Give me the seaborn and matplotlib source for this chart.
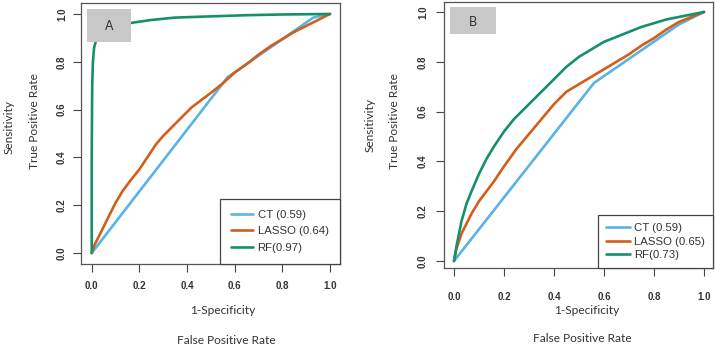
import numpy as np
import pandas as pd
import matplotlib
matplotlib.use("Agg")
import matplotlib.pyplot as plt
from matplotlib.patches import Rectangle
import seaborn as sns

# ---------------- data ----------------
models = ["CT", "LASSO", "RF"]
labels_A = ["CT (0.59)", "LASSO (0.64)", "RF(0.97)"]
labels_B = ["CT (0.59)", "LASSO (0.65)", "RF(0.73)"]
colors = ["#58B3E6", "#D25E1C", "#15906C"]

# Panel A
ct_fpr_A = [0.0, 0.57, 0.93, 1.0]
ct_tpr_A = [0.0, 0.735, 0.985, 1.0]
lasso_fpr_A = [0.0, 0.01, 0.02, 0.04, 0.06, 0.08, 0.10, 0.13, 0.16, 0.20, 0.24, 0.27, 0.30,
               0.34, 0.38, 0.42, 0.46, 0.50, 0.55, 0.60, 0.65, 0.70, 0.75, 0.80, 0.85,
               0.90, 0.95, 1.0]
lasso_tpr_A = [0.0, 0.03, 0.05, 0.09, 0.13, 0.17, 0.21, 0.26, 0.30, 0.35, 0.41, 0.455, 0.49,
               0.53, 0.57, 0.61, 0.64, 0.67, 0.71, 0.755, 0.79, 0.83, 0.865, 0.895, 0.925,
               0.95, 0.975, 1.0]
rf_fpr_A = [0.0, 0.0, 0.002, 0.005, 0.01, 0.02, 0.03, 0.05, 0.08, 0.12, 0.18, 0.25, 0.35,
            0.5, 0.65, 0.8, 1.0]
rf_tpr_A = [0.0, 0.4, 0.7, 0.8, 0.86, 0.895, 0.91, 0.925, 0.94, 0.955, 0.965, 0.975,
            0.985, 0.99, 0.995, 0.998, 1.0]

# Panel B
ct_fpr_B = [0.0, 0.56, 0.9, 1.0]
ct_tpr_B = [0.0, 0.715, 0.95, 1.0]
lasso_fpr_B = [0.0, 0.01, 0.02, 0.03, 0.05, 0.07, 0.10, 0.13, 0.16, 0.20, 0.25, 0.30, 0.35,
               0.40, 0.45, 0.50, 0.55, 0.60, 0.65, 0.70, 0.75, 0.80, 0.85, 0.90, 0.95, 1.0]
lasso_tpr_B = [0.0, 0.05, 0.08, 0.11, 0.15, 0.19, 0.24, 0.28, 0.32, 0.38, 0.45, 0.51, 0.57,
               0.63, 0.68, 0.71, 0.74, 0.77, 0.80, 0.83, 0.865, 0.895, 0.93, 0.96, 0.98, 1.0]
rf_fpr_B = [0.0, 0.01, 0.02, 0.03, 0.05, 0.07, 0.10, 0.13, 0.16, 0.20, 0.24, 0.28, 0.32,
            0.36, 0.40, 0.45, 0.50, 0.55, 0.60, 0.65, 0.70, 0.75, 0.80, 0.85, 0.90, 0.95, 1.0]
rf_tpr_B = [0.0, 0.06, 0.11, 0.16, 0.23, 0.28, 0.35, 0.41, 0.46, 0.52, 0.57, 0.61, 0.65,
            0.69, 0.73, 0.78, 0.82, 0.85, 0.88, 0.90, 0.92, 0.94, 0.955, 0.97, 0.98, 0.99, 1.0]

ticks = [0.0, 0.2, 0.4, 0.6, 0.8, 1.0]
tick_labels = ["0.0", "0.2", "0.4", "0.6", "0.8", "1.0"]


def make_df(curves):
    rows = []
    for m, (f, t) in zip(models, curves):
        for i, (a, b) in enumerate(zip(f, t)):
            rows.append({"model": m, "fpr": a, "tpr": b, "order": i})
    return pd.DataFrame(rows)


df_A = make_df([(ct_fpr_A, ct_tpr_A), (lasso_fpr_A, lasso_tpr_A), (rf_fpr_A, rf_tpr_A)])
df_B = make_df([(ct_fpr_B, ct_tpr_B), (lasso_fpr_B, lasso_tpr_B), (rf_fpr_B, rf_tpr_B)])

# ---------------- figure ----------------
sns.set_style("white")
W, H = 715, 349
fig = plt.figure(figsize=(W / 100, H / 100), dpi=100)
fig.patch.set_facecolor("white")


def px_axes(left, right, top, bottom):
    return fig.add_axes([left / W, (H - bottom) / H, (right - left) / W, (bottom - top) / H])


label_font = ["Lato", "DejaVu Sans"]
tick_font = ["Liberation Sans", "DejaVu Sans"]
leg_font = ["Liberation Sans", "DejaVu Sans"]


def draw_panel(ax, df, labels, xlim, ylim, xpad, ypad, letter, box, letter_xy,
               leg_kw):
    sns.lineplot(data=df, x="fpr", y="tpr", hue="model", hue_order=models,
                 palette=colors, sort=False, estimator=None, units="model",
                 linewidth=1.9, legend=False, ax=ax)
    ax.set_xlim(*xlim)
    ax.set_ylim(*ylim)
    ax.set_xticks(ticks)
    ax.set_yticks(ticks)
    ax.set_xticklabels(tick_labels, fontfamily=tick_font, fontweight="bold", fontsize=7,
                       color="#333333")
    ax.set_yticklabels(tick_labels, fontfamily=tick_font, fontweight="bold", fontsize=7,
                       rotation=90, va="center", color="#333333")
    ax.tick_params(axis="x", direction="out", length=6, width=0.8, pad=xpad,
                   colors="#444444", bottom=True)
    ax.tick_params(axis="y", direction="out", length=6, width=0.8, pad=ypad,
                   colors="#444444", left=True)
    for tl in ax.get_xticklabels() + ax.get_yticklabels():
        tl.set_color("#333333")
    for s in ax.spines.values():
        s.set_visible(True)
        s.set_color("#555555")
        s.set_linewidth(0.9)
    ax.set_xlabel("")
    ax.set_ylabel("")
    ax.grid(False)
    # legend
    handles = ax.get_lines()[:3]
    leg = ax.legend(handles, labels, loc="lower right", bbox_to_anchor=(1.0, 0.0),
                    borderaxespad=0.0, fancybox=False, framealpha=1,
                    prop={"family": leg_font, "size": 8.2}, **leg_kw)
    leg.get_frame().set_edgecolor("#444444")
    leg.get_frame().set_linewidth(0.9)
    for t in leg.get_texts():
        t.set_color("#333333")
    # letter box
    ax.add_patch(Rectangle((box[0], box[1]), box[2], box[3], transform=ax.transAxes,
                           facecolor="#C8C8C8", edgecolor="none", zorder=5))
    ax.text(letter_xy[0], letter_xy[1], letter, transform=ax.transAxes, ha="center",
            va="center", fontsize=9, fontfamily=label_font, color="#333333", zorder=6)


axA = px_axes(81, 340, 3, 264)
draw_panel(axA, df_A, labels_A, (-0.045, 1.042), (-0.046, 1.046), 6.5, 4, "A",
           (0.023, 0.851, 0.17, 0.126), (0.108, 0.912),
           dict(handlelength=1.9, handletextpad=0.4, labelspacing=0.55, borderpad=1.0))

axB = px_axes(444, 713, 2, 268)
draw_panel(axB, df_B, labels_B, (-0.04, 1.036), (-0.028, 1.04), 11, 5.5, "B",
           (0.022, 0.880, 0.171, 0.1015), (0.108, 0.925),
           dict(handlelength=2.1, handletextpad=0.4, labelspacing=0.3, borderpad=0.7))


def ftext(x, y, s, rot=0):
    fig.text(x / W, 1 - y / H, s, ha="center", va="center", rotation=rot,
             fontsize=8.6, fontfamily=label_font, color="#333333")


ftext(9, 127, "Sensitivity", 90)
ftext(35, 121, "True Positive Rate", 90)
ftext(223, 311, "1-Specificity")
ftext(226, 340, "False Positive Rate")

ftext(370, 125, "Sensitivity", 90)
ftext(395, 121, "True Positive Rate", 90)
ftext(587, 310, "1-Specificity")
ftext(582, 338, "False Positive Rate")

fig.savefig("out.png", dpi=100, facecolor="white")
